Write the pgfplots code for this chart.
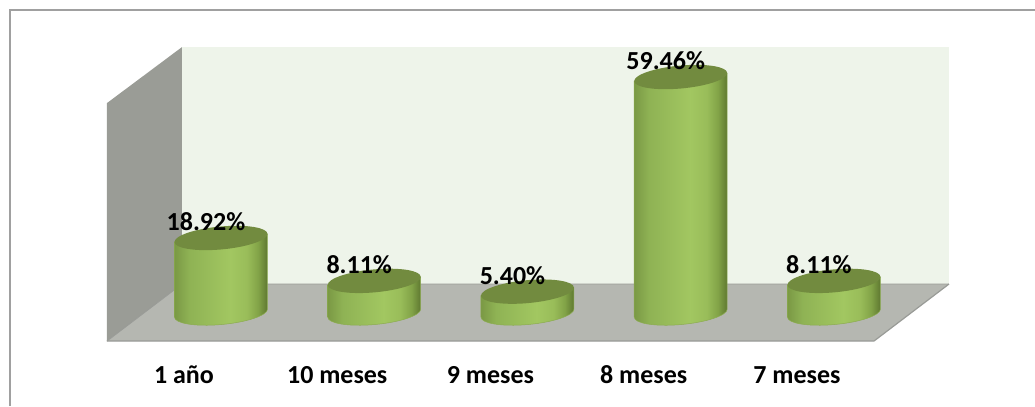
\documentclass[border=0pt]{standalone}
\usepackage{pgfplots}
\pgfplotsset{compat=1.18}
\usepackage{fontspec}
\setmainfont{Carlito}
\definecolor{cyltop}{HTML}{728B3F}
\definecolor{cylrim}{HTML}{8CAC50}
\definecolor{framegray}{HTML}{A0A0A0}
\definecolor{backwall}{HTML}{EEF4EA}
\definecolor{floorgray}{HTML}{B5B7B1}
\definecolor{sidewall}{HTML}{9A9C96}
\definecolor{edgegray}{HTML}{999B97}
\pgfdeclarehorizontalshading{cylshade}{100bp}{
  rgb(0bp)=(0.48,0.60,0.27);
  rgb(25bp)=(0.48,0.60,0.27);
  rgb(33bp)=(0.56,0.70,0.33);
  rgb(55bp)=(0.635,0.78,0.38);
  rgb(64bp)=(0.60,0.74,0.35);
  rgb(70bp)=(0.51,0.64,0.28);
  rgb(75bp)=(0.37,0.47,0.19);
  rgb(100bp)=(0.37,0.47,0.19)}
\pgfdeclareplotmark{cylmark}{%
  \pgfmathsetlengthmacro\hh{\val*3.97pt}%
  \shade[shading=cylshade, draw=cylrim, line width=0.5pt]
    (-46.5pt,-4pt) -- ++(0pt,-\hh)
    .. controls +(0pt,-6.35pt) and +(-25.68pt,-2.21pt) .. ++(46.5pt,-7.5pt)
    .. controls +(25.68pt,2.21pt) and +(0pt,-6.35pt) .. ++(46.5pt,15.5pt)
    -- (46.5pt,4pt) -- cycle;
  \pgfsetfillcolor{cyltop}%
  \pgfpathellipse{\pgfpointorigin}{\pgfpoint{46.5pt}{4pt}}{\pgfpoint{0pt}{11.5pt}}%
  \pgfusepath{fill}%
}
\begin{document}
\begin{tikzpicture}
\begin{axis}[
  scale only axis, width=1035pt, height=406pt,
  xmin=-1.442, xmax=5.312, ymin=-23.43, ymax=78.84,
  axis line style={draw=none},
  major tick length=0pt,
  ytick=\empty,
  xtick={0,1,2,3,4},
  xticklabels={1 año,10 meses,9 meses,8 meses,7 meses},
  x tick label style={font=\fontsize{26}{28}\selectfont\bfseries, anchor=base, xshift=-37pt, yshift=22.6pt, inner sep=0pt},
  /pgf/number format/assume math mode=true,
]
% frame
\draw[framegray, line width=1.5pt] (-1.3768,-23.43) -- (-1.3768,76.32) -- (5.312,76.32);
% walls
\fill[backwall] (-0.2545,67.0) -- (4.7504,67.0) -- (4.7504,7.305) -- (-0.2545,7.305) -- cycle;
\fill[floorgray] (-0.2545,7.305) -- (4.7504,7.305) -- (4.261,-7.053) -- (-0.7439,-7.053) -- cycle;
\fill[sidewall] (-0.7439,52.9) -- (-0.2545,67.0) -- (-0.2545,7.305) -- (-0.7439,-7.053) -- cycle;
\draw[edgegray, line width=0.8pt] (-0.7439,-7.053) -- (-0.2545,7.305) -- (4.7504,7.305);
\draw[edgegray, line width=1.2pt] (-0.7439,-7.053) -- (4.261,-7.053) -- (4.7504,7.305);
\addplot[
  scatter, only marks, mark=cylmark, point meta=y,
  visualization depends on={\thisrow{v} \as \val},
  nodes near coords={\pgfmathprintnumber[fixed, fixed zerofill, precision=2]{\pgfplotspointmeta}\%},
  every node near coord/.append style={font=\fontsize{26}{28}\selectfont\bfseries, anchor=center, xshift=-15pt, yshift=16pt, inner sep=0pt, text=black},
] table[x=i, y=v] {
i v
0 18.92
1 8.11
2 5.40
3 59.46
4 8.11
};
\end{axis}
\end{tikzpicture}
\end{document}
